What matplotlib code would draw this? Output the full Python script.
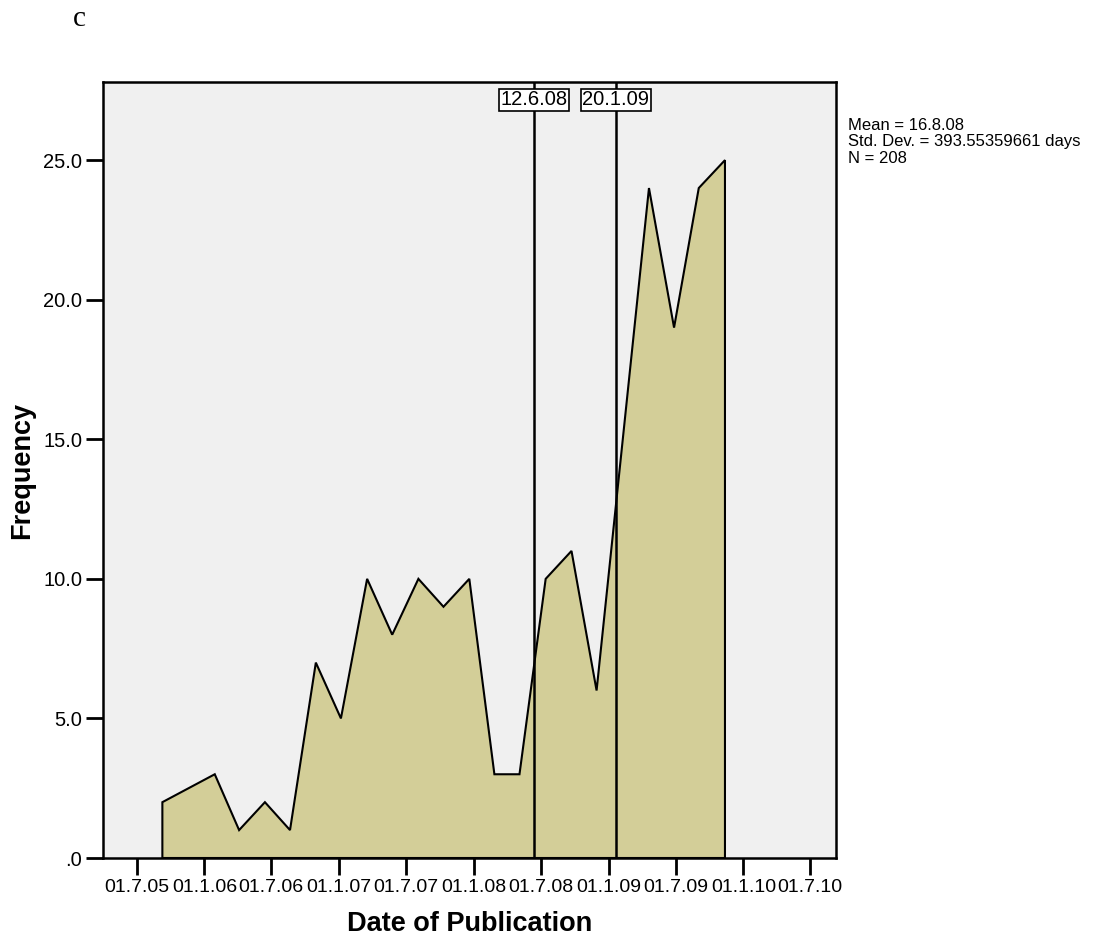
import matplotlib
matplotlib.use("Agg")
import matplotlib.pyplot as plt
import matplotlib.dates as mdates
import numpy as np

# frequency polygon points (bin midpoints) and counts
pub_dates = ["2005-09-09", "2006-01-29", "2006-04-05", "2006-06-14", "2006-08-21",
             "2006-10-30", "2007-01-06", "2007-03-18", "2007-05-25", "2007-08-04",
             "2007-10-11", "2007-12-20", "2008-02-26", "2008-05-04", "2008-07-14",
             "2008-09-22", "2008-11-29", "2009-02-08", "2009-04-20", "2009-06-27",
             "2009-09-02", "2009-11-12"]
freq = [2, 3, 1, 2, 1, 7, 5, 10, 8, 10, 9, 10, 3, 3, 10, 11, 6, 15, 24, 19, 24, 25]

ref_dates = ["2008-06-12", "2009-01-20"]
ref_labels = ["12.6.08", "20.1.09"]

tick_dates = ["2005-07-01", "2006-01-01", "2006-07-01", "2007-01-01", "2007-07-01",
              "2008-01-01", "2008-07-01", "2009-01-01", "2009-07-01", "2010-01-01",
              "2010-07-01"]
tick_labels = ["01.7.05", "01.1.06", "01.7.06", "01.1.07", "01.7.07", "01.1.08",
               "01.7.08", "01.1.09", "01.7.09", "01.1.10", "01.7.10"]

stats_text = "Mean = 16.8.08\nStd. Dev. = 393.55359661 days\nN = 208"

plt.rcParams['font.family'] = ['Liberation Sans', 'DejaVu Sans']

fig = plt.figure(figsize=(10.99, 9.41), dpi=100)
ax = fig.add_axes([0.0937, 0.0882, 0.6670, 0.8247])
ax.set_facecolor('#f0f0f0')

x = mdates.date2num(np.array(pub_dates, dtype='datetime64[D]'))
y = np.array(freq, dtype=float)
px = np.concatenate([[x[0]], x, [x[-1]]])
py = np.concatenate([[0], y, [0]])
ax.fill(px, py, facecolor='#d3ce98', edgecolor='black', linewidth=1.5, zorder=2)

rx = mdates.date2num(np.array(ref_dates, dtype='datetime64[D]'))
for xr, lab in zip(rx, ref_labels):
    ax.axvline(xr, color='black', linewidth=1.8, zorder=3)
    ax.text(xr, 27.5, lab, ha='center', va='top', fontsize=14.5, zorder=4,
            bbox=dict(boxstyle='square,pad=0.08', facecolor='white', edgecolor='black', linewidth=1.2))

xt = mdates.date2num(np.array(tick_dates, dtype='datetime64[D]'))
ax.set_xticks(xt)
ax.set_xticklabels(tick_labels, fontsize=14)
ax.set_xlim(mdates.date2num(np.datetime64('2005-04-01')), mdates.date2num(np.datetime64('2010-09-09')))

ax.set_ylim(0, 27.8)
ax.set_yticks([0, 5, 10, 15, 20, 25])
ax.set_yticklabels(['.0', '5.0', '10.0', '15.0', '20.0', '25.0'], fontsize=14.5)

ax.tick_params(direction='out', length=12, width=2, pad=3)
for s in ax.spines.values():
    s.set_linewidth(1.8)

ax.set_xlabel('Date of Publication', fontsize=19.5, fontweight='bold', labelpad=11)
ax.set_ylabel('Frequency', fontsize=19.5, fontweight='bold', labelpad=6)

fig.text(848 / 1099, 1 - 118 / 941, stats_text, fontsize=12, va='top', ha='left', linespacing=1.12)
fig.text(79 / 1099, 1 - 19 / 941, 'c', fontsize=21, family='Liberation Serif', va='center', ha='center')

fig.savefig('out.png', dpi=100)
